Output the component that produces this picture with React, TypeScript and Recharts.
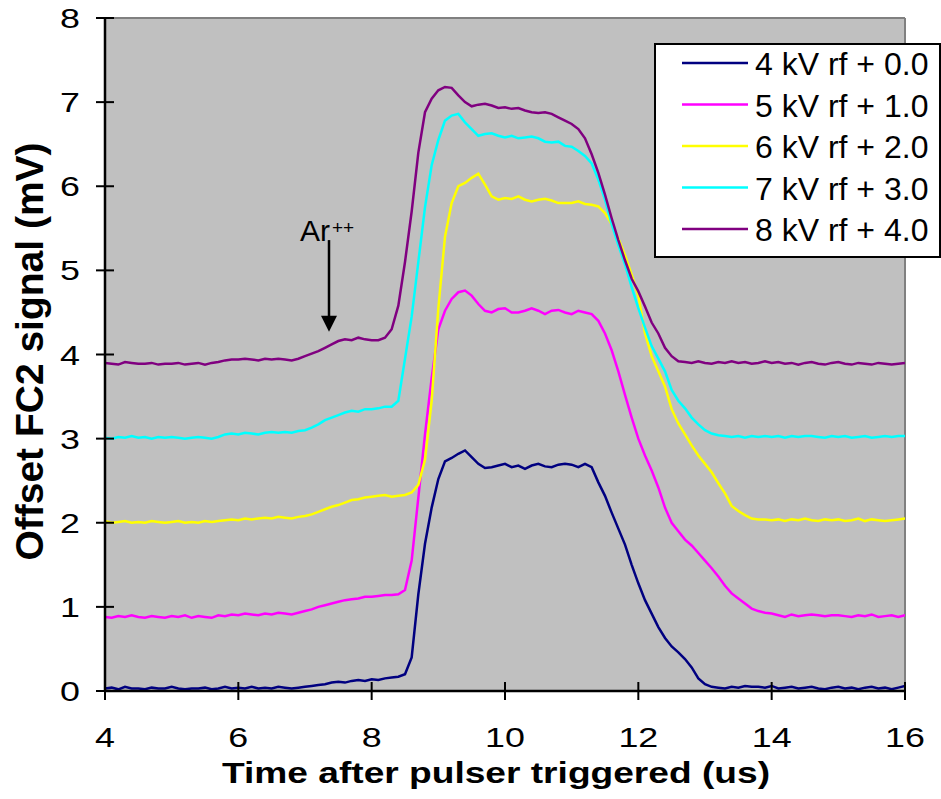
import React from 'react';
import { LineChart, Line, XAxis, YAxis, CartesianGrid, ReferenceLine, Legend } from 'recharts';

// Time after pulser triggered (us)
const timeUs = [
  4.0, 4.1, 4.2, 4.3, 4.4, 4.5, 4.6, 4.7, 4.8, 4.9,
  5.0, 5.1, 5.2, 5.3, 5.4, 5.5, 5.6, 5.7, 5.8, 5.9,
  6.0, 6.1, 6.2, 6.3, 6.4, 6.5, 6.6, 6.7, 6.8, 6.9,
  7.0, 7.1, 7.2, 7.3, 7.4, 7.5, 7.6, 7.7, 7.8, 7.9,
  8.0, 8.1, 8.2, 8.3, 8.4, 8.5, 8.6, 8.7, 8.8, 8.9,
  9.0, 9.1, 9.2, 9.3, 9.4, 9.5, 9.6, 9.7, 9.8, 9.9,
  10.0, 10.1, 10.2, 10.3, 10.4, 10.5, 10.6, 10.7, 10.8, 10.9,
  11.0, 11.1, 11.2, 11.3, 11.4, 11.5, 11.6, 11.7, 11.8, 11.9,
  12.0, 12.1, 12.2, 12.3, 12.4, 12.5, 12.6, 12.7, 12.8, 12.9,
  13.0, 13.1, 13.2, 13.3, 13.4, 13.5, 13.6, 13.7, 13.8, 13.9,
  14.0, 14.1, 14.2, 14.3, 14.4, 14.5, 14.6, 14.7, 14.8, 14.9,
  15.0, 15.1, 15.2, 15.3, 15.4, 15.5, 15.6, 15.7, 15.8, 15.9,
  16.0,
];

// 4 kV rf + 0.0
const kv4 = [
  0.03, 0.04, 0.02, 0.05, 0.03, 0.03, 0.02, 0.04, 0.03, 0.03,
  0.05, 0.03, 0.02, 0.03, 0.03, 0.04, 0.02, 0.03, 0.05, 0.03,
  0.04, 0.03, 0.05, 0.03, 0.04, 0.03, 0.05, 0.04, 0.03, 0.04,
  0.05, 0.06, 0.07, 0.08, 0.10, 0.11, 0.10, 0.12, 0.13, 0.12,
  0.14, 0.13, 0.15, 0.16, 0.17, 0.20, 0.40, 1.15, 1.75, 2.18,
  2.52, 2.73, 2.77, 2.82, 2.86, 2.78, 2.70, 2.65, 2.66, 2.68,
  2.70, 2.66, 2.68, 2.64, 2.68, 2.70, 2.67, 2.66, 2.69, 2.70,
  2.69, 2.66, 2.70, 2.66, 2.48, 2.32, 2.12, 1.93, 1.74, 1.50,
  1.28, 1.08, 0.92, 0.76, 0.63, 0.53, 0.46, 0.38, 0.28, 0.15,
  0.08, 0.05, 0.04, 0.03, 0.05, 0.04, 0.06, 0.05, 0.05, 0.04,
  0.06, 0.03, 0.04, 0.05, 0.03, 0.04, 0.05, 0.03, 0.02, 0.04,
  0.05, 0.03, 0.04, 0.02, 0.04, 0.05, 0.03, 0.04, 0.02, 0.04,
  0.06,
];

// 5 kV rf + 1.0
const kv5 = [
  0.88, 0.87, 0.89, 0.88, 0.90, 0.88, 0.87, 0.89, 0.88, 0.87,
  0.89, 0.88, 0.90, 0.87, 0.89, 0.88, 0.87, 0.90, 0.89, 0.91,
  0.90, 0.92, 0.91, 0.90, 0.92, 0.91, 0.93, 0.92, 0.91, 0.93,
  0.95, 0.97, 1.00, 1.02, 1.04, 1.06, 1.08, 1.09, 1.10, 1.12,
  1.12, 1.13, 1.14, 1.14, 1.15, 1.20, 1.55, 2.30, 3.05, 3.72,
  4.30, 4.52, 4.66, 4.74, 4.76, 4.70, 4.60, 4.52, 4.50, 4.54,
  4.55, 4.50, 4.50, 4.52, 4.55, 4.52, 4.48, 4.52, 4.53, 4.50,
  4.48, 4.52, 4.50, 4.48, 4.40, 4.25, 4.05, 3.80, 3.52, 3.25,
  3.00, 2.80, 2.62, 2.42, 2.18, 2.00, 1.90, 1.80, 1.73, 1.64,
  1.55, 1.46, 1.36, 1.25, 1.16, 1.10, 1.04, 0.98, 0.95, 0.93,
  0.92, 0.90, 0.88, 0.91, 0.89, 0.90, 0.91, 0.90, 0.89, 0.90,
  0.90, 0.89, 0.88, 0.90, 0.89, 0.91, 0.88, 0.89, 0.90, 0.88,
  0.90,
];

// 6 kV rf + 2.0
const kv6 = [
  2.02, 2.00, 2.01, 2.02, 2.00, 2.01, 2.00, 2.02, 2.01, 2.00,
  2.01, 2.02, 2.00, 2.01, 2.00, 2.02, 2.01, 2.02, 2.03, 2.04,
  2.03, 2.05, 2.04, 2.05, 2.06, 2.05, 2.07, 2.06, 2.05, 2.07,
  2.08, 2.10, 2.13, 2.16, 2.19, 2.21, 2.24, 2.27, 2.28, 2.30,
  2.31, 2.32, 2.33, 2.31, 2.32, 2.33, 2.36, 2.45, 2.75, 3.45,
  4.55, 5.40, 5.80, 6.00, 6.04, 6.10, 6.15, 6.02, 5.88, 5.84,
  5.86, 5.85, 5.88, 5.84, 5.82, 5.84, 5.85, 5.83, 5.80, 5.80,
  5.80, 5.82, 5.79, 5.78, 5.76, 5.68, 5.55, 5.38, 5.18, 4.95,
  4.70, 4.25, 3.98, 3.80, 3.62, 3.35, 3.18, 3.05, 2.92, 2.80,
  2.70, 2.60, 2.47, 2.35, 2.20, 2.14, 2.09, 2.05, 2.04, 2.04,
  2.03, 2.04, 2.02, 2.04, 2.03, 2.05, 2.03, 2.02, 2.04, 2.03,
  2.04, 2.02, 2.03, 2.05, 2.02, 2.04, 2.03, 2.02, 2.03, 2.04,
  2.05,
];

// 7 kV rf + 3.0
const kv7 = [
  3.01, 3.00, 3.02, 3.01, 3.03, 3.01, 3.02, 3.00, 3.02, 3.01,
  3.02, 3.01, 3.00, 3.01, 3.02, 3.01, 3.00, 3.02, 3.05, 3.06,
  3.05, 3.07, 3.06, 3.05, 3.07, 3.08, 3.07, 3.08, 3.07, 3.09,
  3.10, 3.13, 3.17, 3.22, 3.25, 3.28, 3.31, 3.33, 3.32, 3.35,
  3.35, 3.36, 3.38, 3.38, 3.45, 3.95, 4.45, 5.10, 5.75, 6.25,
  6.55, 6.78, 6.84, 6.86, 6.76, 6.68, 6.60, 6.62, 6.63, 6.60,
  6.58, 6.60, 6.57, 6.58, 6.59, 6.57, 6.53, 6.52, 6.53, 6.48,
  6.47, 6.42, 6.36, 6.27, 6.08, 5.84, 5.55, 5.30, 5.07, 4.80,
  4.55, 4.32, 4.10, 3.95, 3.80, 3.58, 3.45, 3.36, 3.25, 3.17,
  3.10, 3.06, 3.04, 3.03, 3.02, 3.03, 3.01, 3.03, 3.02, 3.03,
  3.02, 3.03, 3.01, 3.03, 3.02, 3.03, 3.03, 3.02, 3.01, 3.03,
  3.02, 3.03, 3.01, 3.02, 3.03, 3.01, 3.02, 3.03, 3.02, 3.03,
  3.03,
];

// 8 kV rf + 4.0
const kv8 = [
  3.90, 3.89, 3.88, 3.91, 3.90, 3.89, 3.89, 3.90, 3.88, 3.89,
  3.89, 3.90, 3.88, 3.89, 3.90, 3.88, 3.90, 3.91, 3.93, 3.94,
  3.94, 3.95, 3.94, 3.93, 3.95, 3.94, 3.95, 3.94, 3.93, 3.95,
  3.98, 4.01, 4.04, 4.08, 4.12, 4.16, 4.18, 4.17, 4.20, 4.18,
  4.17, 4.17, 4.20, 4.30, 4.58, 5.10, 5.70, 6.40, 6.88, 7.04,
  7.14, 7.18, 7.17, 7.08, 7.00, 6.95, 6.97, 6.98, 6.96, 6.93,
  6.94, 6.92, 6.93, 6.90, 6.88, 6.87, 6.88, 6.86, 6.82, 6.78,
  6.74, 6.68, 6.57, 6.38, 6.16, 5.90, 5.62, 5.36, 5.12, 4.90,
  4.75, 4.57, 4.38, 4.25, 4.08, 3.98, 3.92, 3.91, 3.90, 3.92,
  3.90, 3.89, 3.91, 3.90, 3.92, 3.90, 3.91, 3.89, 3.90, 3.92,
  3.90, 3.91, 3.89, 3.90, 3.88, 3.90, 3.91, 3.89, 3.88, 3.90,
  3.91, 3.89, 3.88, 3.90, 3.89, 3.88, 3.90, 3.89, 3.88, 3.89,
  3.90,
];

const seriesNames = ['4 kV rf + 0.0', '5 kV rf + 1.0', '6 kV rf + 2.0', '7 kV rf + 3.0', '8 kV rf + 4.0'];
const seriesValues = [kv4, kv5, kv6, kv7, kv8];
const seriesColors = ['#000080', '#FF00FF', '#FFFF00', '#00FFFF', '#800080'];

const xTicks = [4, 6, 8, 10, 12, 14, 16];
const yTicks = [0, 1, 2, 3, 4, 5, 6, 7, 8];
const xDomain = [4, 16];
const yDomain = [0, 8];

const xTitle = 'Time after pulser triggered (us)';
const yTitle = 'Offset FC2 signal (mV)';

// Ar++ annotation (data coordinates)
const annotationLabel = 'Ar';
const annotationSup = '++';
const arrowTime = 7.36;
const arrowFrom = 5.36;
const arrowTo = 4.27;

const chartData = timeUs.map((t, i) => {
  const row: Record<string, number> = { t };
  seriesValues.forEach((vals, k) => {
    row['s' + k] = vals[i];
  });
  return row;
});

const FONT = '"Liberation Sans", Arial, Helvetica, sans-serif';

const XTick = (props: any) => {
  const { x, y, payload } = props;
  return (
    <g>
      <line x1={x} x2={x} y1={y - 18} y2={y} stroke="#000" strokeWidth={2} />
      <text
        transform={`translate(${x},${y + 47}) scale(1.28,1)`}
        textAnchor="middle"
        fontSize={28}
        fontFamily={FONT}
        fill="#000"
      >
        {payload.value}
      </text>
    </g>
  );
};

const YTick = (props: any) => {
  const { x, y, payload } = props;
  return (
    <g>
      <line x1={x} x2={x + 18} y1={y} y2={y} stroke="#000" strokeWidth={2} />
      <text
        transform={`translate(${x - 16},${y + 10}) scale(1.28,1)`}
        textAnchor="end"
        fontSize={28}
        fontFamily={FONT}
        fill="#000"
      >
        {payload.value}
      </text>
    </g>
  );
};

const XTitle = (props: any) => {
  const vb = props.viewBox || { x: 105, y: 691, width: 800, height: 100 };
  const cx = vb.x + vb.width / 2 - 9;
  const by = vb.y + 92;
  return (
    <text
      x={cx}
      y={by}
      textAnchor="middle"
      fontSize={29}
      fontWeight="bold"
      fontFamily={FONT}
      textLength={548}
      lengthAdjust="spacingAndGlyphs"
      fill="#000"
    >
      {xTitle}
    </text>
  );
};

const YTitle = (props: any) => {
  const vb = props.viewBox || { x: 5, y: 18, width: 100, height: 673 };
  const bx = vb.x + 38;
  const cy = vb.y + vb.height / 2 - 3;
  return (
    <text
      transform={`translate(${bx},${cy}) rotate(-90)`}
      textAnchor="middle"
      fontSize={39}
      fontWeight="bold"
      fontFamily={FONT}
      fill="#000"
    >
      {yTitle}
    </text>
  );
};

const ArrowShape = (p: any) => {
  const { x1, y1, x2, y2 } = p;
  if ([x1, y1, x2, y2].some((v) => typeof v !== 'number' || isNaN(v))) return <g />;
  const head = 16;
  return (
    <g>
      <line x1={x1} y1={y1} x2={x2} y2={y2 - head + 1} stroke="#000" strokeWidth={2.5} />
      <polygon points={`${x2 - 8},${y2 - head} ${x2 + 8},${y2 - head} ${x2},${y2}`} fill="#000" />
      <text x={x1 - 29} y={y1 + 1} fontSize={30} fontFamily={FONT} fill="#000">
        {annotationLabel}
      </text>
      <text x={x1 + 3} y={y1 - 6} fontSize={19} fontFamily={FONT} fill="#000">
        {annotationSup}
      </text>
    </g>
  );
};

const LegendBox = (props: any) => {
  const payload = props.payload || [];
  return (
    <svg width={287} height={215} style={{ display: 'block' }}>
      <rect x={1} y={1} width={285} height={213} fill="#fff" stroke="#000" strokeWidth={2} />
      {payload.map((entry: any, i: number) => {
        const cy = 20 + i * 41.5;
        return (
          <g key={i}>
            <line x1={28} x2={94} y1={cy} y2={cy} stroke={entry.color} strokeWidth={2.5} />
            <text x={101} y={cy + 12} fontSize={32} fontFamily={FONT} fill="#000">
              {entry.value}
            </text>
          </g>
        );
      })}
    </svg>
  );
};

export default function App() {
  return (
    <div style={{ position: 'absolute', left: 0, top: 0, width: 941, height: 799, background: '#fff', fontFamily: FONT }}>
      <LineChart
        width={941}
        height={799}
        data={chartData}
        margin={{ top: 18, right: 36, bottom: 8, left: 5 }}
      >
        <CartesianGrid fill="#C0C0C0" horizontal={false} vertical={false} />
        <ReferenceLine y={8} stroke="#808080" strokeWidth={2} />
        <ReferenceLine x={16} stroke="#808080" strokeWidth={2} />
        <XAxis
          dataKey="t"
          type="number"
          domain={xDomain}
          ticks={xTicks}
          interval={0}
          height={100}
          tickSize={9}
          tickMargin={0}
          tickLine={false}
          tick={<XTick />}
          axisLine={{ stroke: '#000', strokeWidth: 2.5 }}
          allowDataOverflow
          label={<XTitle />}
        />
        <YAxis
          type="number"
          domain={yDomain}
          ticks={yTicks}
          interval={0}
          width={100}
          tickSize={9}
          tickMargin={0}
          tickLine={false}
          tick={<YTick />}
          axisLine={{ stroke: '#000', strokeWidth: 2.5 }}
          allowDataOverflow
          label={<YTitle />}
        />
        {seriesNames.map((name, k) => (
          <Line
            key={name}
            type="linear"
            dataKey={'s' + k}
            name={name}
            stroke={seriesColors[k]}
            strokeWidth={2.5}
            dot={false}
            activeDot={false}
            isAnimationActive={false}
          />
        ))}
        <ReferenceLine
          segment={[{ x: arrowTime, y: arrowFrom }, { x: arrowTime, y: arrowTo }]}
          shape={ArrowShape}
          stroke="#000"
        />
        <Legend
          layout="vertical"
          align="center"
          verticalAlign="middle"
          content={<LegendBox />}
          wrapperStyle={{ left: 654, top: 43, width: 287, height: 215 }}
        />
      </LineChart>
    </div>
  );
}
